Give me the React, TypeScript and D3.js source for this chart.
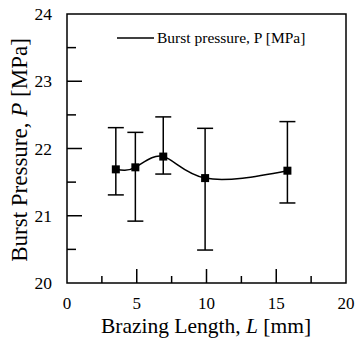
import React from "react";
import * as d3 from "d3";

const lengths = [3.5, 4.9, 6.9, 9.9, 15.8];
const pressures = [21.69, 21.72, 21.88, 21.56, 21.67];
const upper = [22.31, 22.24, 22.47, 22.30, 22.40];
const lower = [21.31, 20.92, 21.62, 20.49, 21.19];
const xTicks = [0, 5, 10, 15, 20];
const yTicks = [20, 21, 22, 23, 24];

const W = 356, H = 341;
const M = { left: 67, right: 346, top: 14, bottom: 283 };
const FONT = "'Liberation Serif', 'Times New Roman', serif";

export default function App() {
  const x = d3.scaleLinear().domain([0, 20]).range([M.left, M.right]);
  const y = d3.scaleLinear().domain([20, 24]).range([M.bottom, M.top]);
  const data = lengths.map((l, i) => ({ l, p: pressures[i], u: upper[i], lo: lower[i] }));
  const line = d3.line<any>().x(d => x(d.l)).y(d => y(d.p)).curve(d3.curveNatural);
  const xMinor = d3.range(0, 20.01, 2.5).filter(v => !xTicks.includes(v));
  const yMinor = d3.range(20, 24.01, 0.5).filter(v => !yTicks.includes(v));
  const cap = 8;
  return (
    <svg width={W} height={H} style={{ position: "absolute", left: 0, top: 0, background: "#fff" }} fontFamily={FONT}>
      <rect x={M.left} y={M.top} width={M.right - M.left} height={M.bottom - M.top} fill="none" stroke="#000" strokeWidth={1.5} />
      {xTicks.map(t => (
        <g key={"xt" + t}>
          {t > 0 && t < 20 && <line x1={x(t)} x2={x(t)} y1={M.bottom} y2={M.bottom - 14} stroke="#000" strokeWidth={1.5} />}
          <text x={x(t)} y={309} textAnchor="middle" fontSize={17}>{t}</text>
        </g>
      ))}
      {xMinor.map(t => (
        <line key={"xm" + t} x1={x(t)} x2={x(t)} y1={M.bottom} y2={M.bottom - 7} stroke="#000" strokeWidth={1.5} />
      ))}
      {yTicks.map(t => (
        <g key={"yt" + t}>
          {t > 20 && t < 24 && <line x1={M.left} x2={M.left + 15} y1={y(t)} y2={y(t)} stroke="#000" strokeWidth={1.5} />}
          <text x={52} y={y(t) + 6} textAnchor="end" fontSize={17.5}>{t}</text>
        </g>
      ))}
      {yMinor.map(t => (
        <line key={"ym" + t} x1={M.left} x2={M.left + 9} y1={y(t)} y2={y(t)} stroke="#000" strokeWidth={1.5} />
      ))}
      <path d={line(data) || ""} fill="none" stroke="#000" strokeWidth={1.5} />
      {data.map((d, i) => (
        <g key={"e" + i} stroke="#000" strokeWidth={1.5}>
          <line x1={x(d.l)} x2={x(d.l)} y1={y(d.u)} y2={y(d.lo)} />
          <line x1={x(d.l) - cap} x2={x(d.l) + cap} y1={y(d.u)} y2={y(d.u)} />
          <line x1={x(d.l) - cap} x2={x(d.l) + cap} y1={y(d.lo)} y2={y(d.lo)} />
          <rect x={x(d.l) - 4} y={y(d.p) - 4} width={8} height={8} fill="#000" stroke="none" />
        </g>
      ))}
      <line x1={117} x2={154} y1={38} y2={38} stroke="#000" strokeWidth={1.5} />
      <text x={157} y={43} fontSize={15.5}>Burst pressure, P [MPa]</text>
      <text x={206} y={333} textAnchor="middle" fontSize={21.5}>
        Brazing Length, <tspan fontStyle="italic">L</tspan> [mm]
      </text>
      <text transform={`translate(27, 150) rotate(-90)`} textAnchor="middle" fontSize={23}>
        Burst Pressure, <tspan fontStyle="italic">P</tspan> [MPa]
      </text>
    </svg>
  );
}
